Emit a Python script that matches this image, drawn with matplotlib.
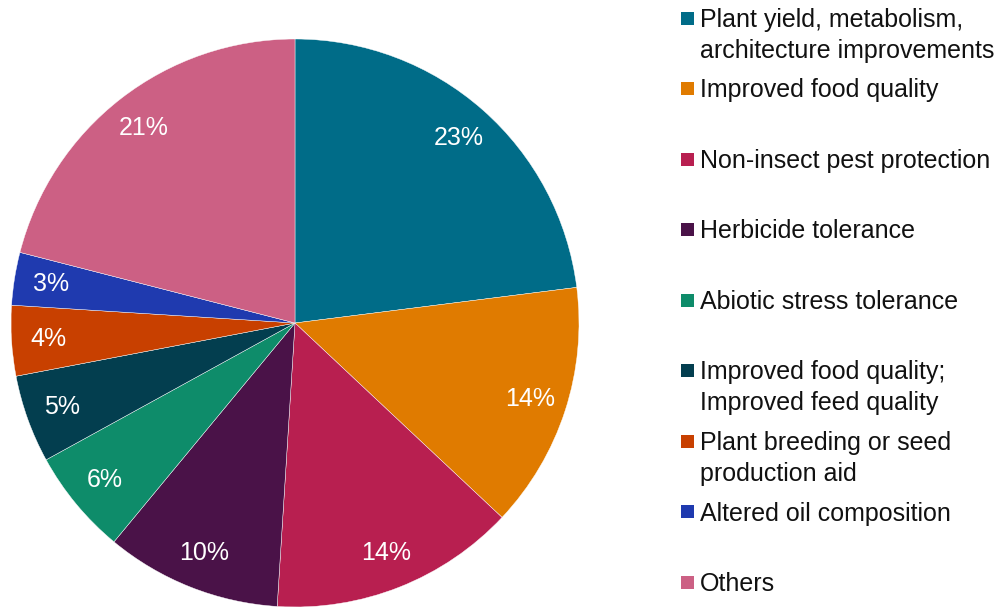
"""Pie chart of trait categories with a side legend."""
import matplotlib.pyplot as plt
from matplotlib.patches import Rectangle

plt.rcParams['font.family'] = ['Liberation Sans', 'DejaVu Sans']

categories = ['Plant yield, metabolism,\narchitecture improvements',
              'Improved food quality',
              'Non-insect pest protection',
              'Herbicide tolerance',
              'Abiotic stress tolerance',
              'Improved food quality;\nImproved feed quality',
              'Plant breeding or seed\nproduction aid',
              'Altered oil composition',
              'Others']
shares = [23, 14, 14, 10, 6, 5, 4, 3, 21]
colors = ['#006C88', '#E07B00', '#B81F50', '#4A1248', '#0E8C6A',
          '#033E4F', '#C84000', '#1F3AAF', '#CC6084']

W, H = 999, 607
fig = plt.figure(figsize=(W / 100, H / 100), dpi=100)

# pie centred at (295, 323) px with a radius of 284 px
cx, cy, r = 295, 323, 284
ax = fig.add_axes([(cx - r) / W, (H - cy - r) / H, 2 * r / W, 2 * r / H])
wedges, texts, autotexts = ax.pie(
    shares, colors=colors, startangle=90, counterclock=False,
    autopct='%1.0f%%', pctdistance=0.87,
    wedgeprops=dict(edgecolor='white', linewidth=0.3),
    textprops=dict(color='white', fontsize=18))
ax.set_xlim(-1, 1)
ax.set_ylim(-1, 1)
ax.set_aspect('equal')
for w in wedges:
    w.set_clip_on(False)

# legend drawn by hand: one square and label per category
y0, step = 18, 70.5
box = 13
for i, (label, col) in enumerate(zip(categories, colors)):
    y = y0 + i * step
    fig.patches.append(Rectangle((681 / W, (H - y - box / 2) / H), box / W, box / H,
                                 transform=fig.transFigure, facecolor=col,
                                 edgecolor='none'))
    fig.text(700 / W, (H - y + 10) / H, label, ha='left', va='top',
             fontsize=18, color='#111111', linespacing=1.36)

fig.savefig('out.png', dpi=100)
